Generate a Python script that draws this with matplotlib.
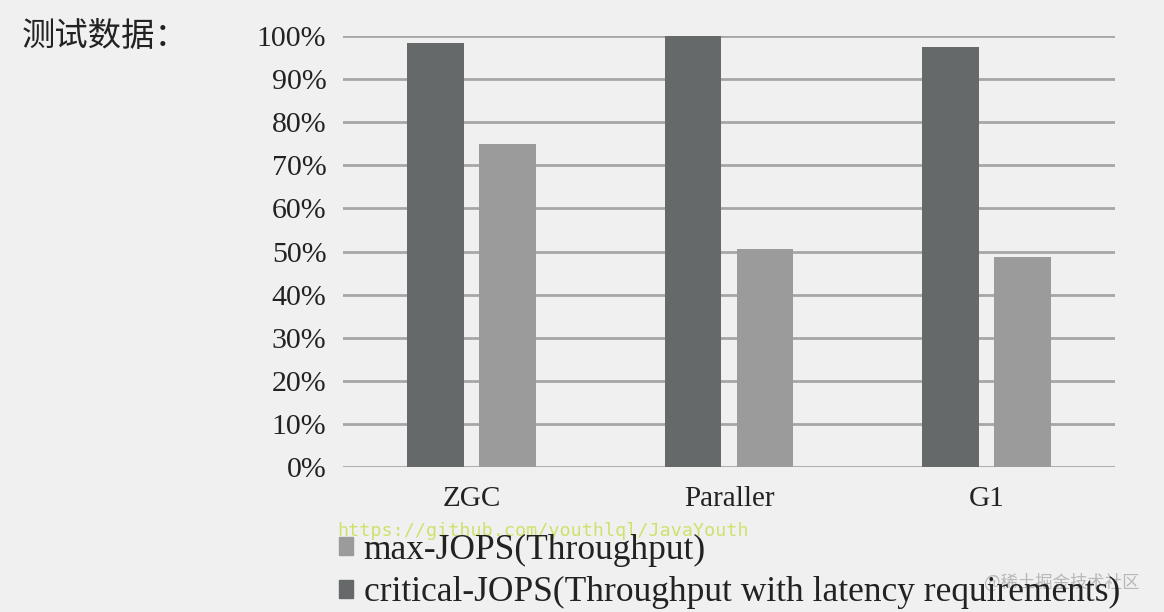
import matplotlib.pyplot as plt
from matplotlib.patches import Patch
import numpy as np

plt.rcParams['font.family'] = ['Liberation Serif', 'Noto Sans CJK SC']

categories = ["ZGC", "Paraller", "G1"]
critical_jops = [98.4, 100.0, 97.4]
max_jops = [75.0, 50.6, 48.7]
y_ticks = [0, 10, 20, 30, 40, 50, 60, 70, 80, 90, 100]

BG = "#f0f0f0"
DARK = "#656969"
LIGHT = "#9b9b9b"
GRID = "#a6a6a6"

fig = plt.figure(figsize=(11.64, 6.12), dpi=100, facecolor=BG)
ax = fig.add_axes([0.2947, 0.2369, 0.6633, 0.7043], facecolor=BG)

x = np.arange(len(categories))
w = 0.22
ax.bar(x - 0.14, critical_jops, width=w, color=DARK, zorder=3)
ax.bar(x + 0.14, max_jops, width=w, color=LIGHT, zorder=3)

ax.set_xlim(-0.5, len(categories) - 0.5)
ax.set_ylim(0, 100)
ax.set_yticks(y_ticks)
ax.set_yticklabels([f"{t}%" for t in y_ticks], fontsize=21.5, color="#222222")
ax.set_xticks(x)
ax.set_xticklabels(categories, fontsize=21, color="#222222")
ax.tick_params(axis="both", length=0)
ax.tick_params(axis="y", pad=12)
ax.tick_params(axis="x", pad=14)
ax.yaxis.grid(True, color=GRID, linewidth=2, zorder=0)
for s in ax.spines.values():
    s.set_visible(False)

fig.text(0.019, 0.94, "测试数据：", fontsize=24, color="#222222",
         family=['Noto Sans CJK SC'], va="center")

fig.text(0.29, 0.133, "https://github.com/youthlql/JavaYouth", fontsize=13.2,
         color="#cde26a", family="DejaVu Sans Mono", va="center", zorder=5)

handles = [Patch(color=LIGHT), Patch(color=DARK)]
labels = ["max-JOPS(Throughput)",
          "critical-JOPS(Throughput with latency requirements)"]
fig.legend(handles, labels, loc="center left", bbox_to_anchor=(0.291, 0.066),
           frameon=False, fontsize=25.5, handlelength=0.4, handleheight=0.4,
           handletextpad=0.3, labelspacing=0.27, borderaxespad=0, borderpad=0,
           labelcolor="#222222")

fig.text(0.845, 0.048, "@稀土掘金技术社区", fontsize=12.5, color="#b8b8b8",
         family=['Noto Sans CJK SC'], va="center", zorder=5)

fig.savefig("out.png", dpi=100, facecolor=BG)
